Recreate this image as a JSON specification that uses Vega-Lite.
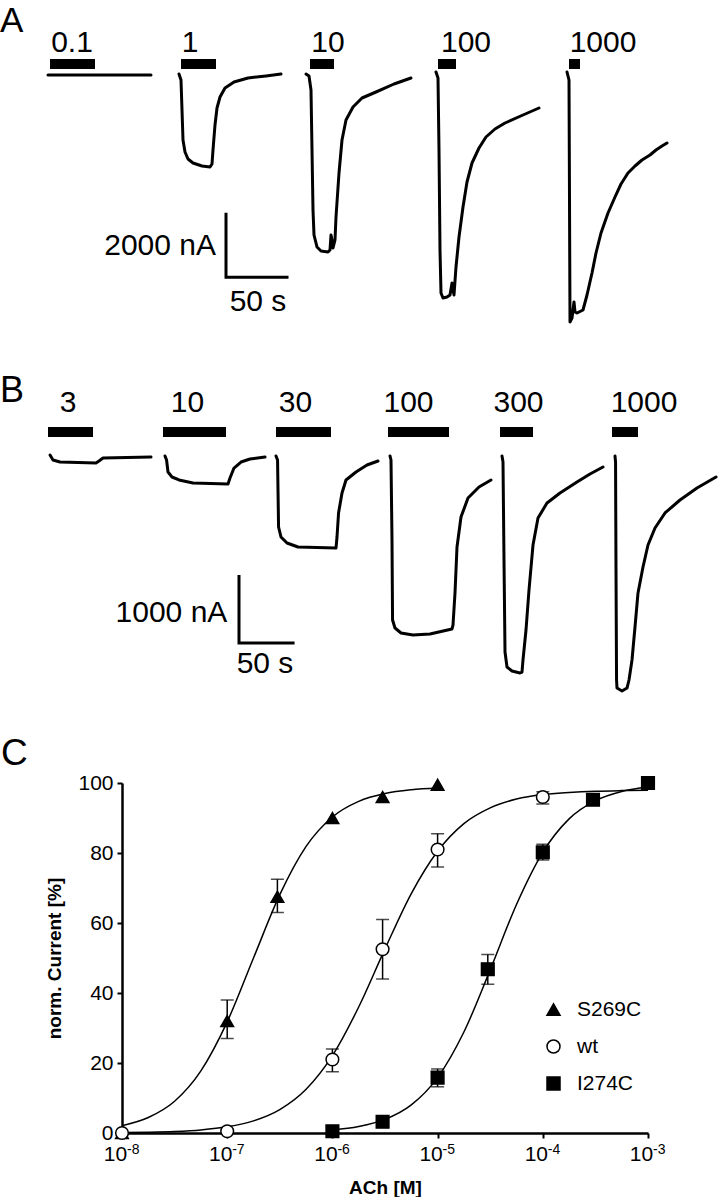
{
  "$schema": "https://vega.github.io/schema/vega-lite/v6.json",
  "padding": 0,
  "background": "white",
  "bounds": "flush",
  "spacing": 0,
  "config": {"view": {"stroke": null}, "font": "Liberation Sans"},
  "vconcat": [
    {
      "width": 526,
      "height": 340,
      "layer": [
        {
          "data": {"values": [
            {"trace": "a01", "t": -59.2, "I": -31}, {"trace": "a01", "t": 23.2, "I": -31},
            {"trace": "a1", "t": 45.6, "I": 0}, {"trace": "a1", "t": 47.2, "I": -186}, {"trace": "a1", "t": 48, "I": -1116}, {"trace": "a1", "t": 48.8, "I": -2046}, {"trace": "a1", "t": 50.4, "I": -2418}, {"trace": "a1", "t": 52.8, "I": -2635}, {"trace": "a1", "t": 56.8, "I": -2759}, {"trace": "a1", "t": 64, "I": -2852}, {"trace": "a1", "t": 70.4, "I": -2883}, {"trace": "a1", "t": 72, "I": -2790}, {"trace": "a1", "t": 72.8, "I": -2356}, {"trace": "a1", "t": 74.4, "I": -1581}, {"trace": "a1", "t": 76, "I": -1054}, {"trace": "a1", "t": 78.4, "I": -713}, {"trace": "a1", "t": 82.4, "I": -434}, {"trace": "a1", "t": 89.6, "I": -248}, {"trace": "a1", "t": 100.8, "I": -124}, {"trace": "a1", "t": 115.2, "I": -62}, {"trace": "a1", "t": 127.2, "I": 0},
            {"trace": "a10", "t": 147.2, "I": 0}, {"trace": "a10", "t": 149.6, "I": -62}, {"trace": "a10", "t": 151.2, "I": -496}, {"trace": "a10", "t": 152, "I": -2356}, {"trace": "a10", "t": 152.8, "I": -4216}, {"trace": "a10", "t": 153.6, "I": -4991}, {"trace": "a10", "t": 156, "I": -5363}, {"trace": "a10", "t": 159.2, "I": -5487}, {"trace": "a10", "t": 164.8, "I": -5518}, {"trace": "a10", "t": 166.4, "I": -5456}, {"trace": "a10", "t": 167.2, "I": -4991}, {"trace": "a10", "t": 168, "I": -5146}, {"trace": "a10", "t": 168.8, "I": -5394}, {"trace": "a10", "t": 170.4, "I": -5146}, {"trace": "a10", "t": 171.2, "I": -4433}, {"trace": "a10", "t": 173.6, "I": -3069}, {"trace": "a10", "t": 176, "I": -2046}, {"trace": "a10", "t": 179.2, "I": -1426}, {"trace": "a10", "t": 184.8, "I": -1023}, {"trace": "a10", "t": 192, "I": -744}, {"trace": "a10", "t": 203.2, "I": -558}, {"trace": "a10", "t": 217.6, "I": -310}, {"trace": "a10", "t": 231.2, "I": -124},
            {"trace": "a100", "t": 251.2, "I": 62}, {"trace": "a100", "t": 252.8, "I": -124}, {"trace": "a100", "t": 253.6, "I": -2356}, {"trace": "a100", "t": 254.4, "I": -5456}, {"trace": "a100", "t": 255.2, "I": -6789}, {"trace": "a100", "t": 256.8, "I": -6944}, {"trace": "a100", "t": 260, "I": -6913}, {"trace": "a100", "t": 262.4, "I": -6851}, {"trace": "a100", "t": 264, "I": -6479}, {"trace": "a100", "t": 264.8, "I": -6696}, {"trace": "a100", "t": 265.6, "I": -6851}, {"trace": "a100", "t": 267.2, "I": -5983}, {"trace": "a100", "t": 269.6, "I": -5053}, {"trace": "a100", "t": 272.8, "I": -4123}, {"trace": "a100", "t": 276, "I": -3348}, {"trace": "a100", "t": 280, "I": -2759}, {"trace": "a100", "t": 285.6, "I": -2294}, {"trace": "a100", "t": 291.2, "I": -1953}, {"trace": "a100", "t": 298.4, "I": -1705}, {"trace": "a100", "t": 306.4, "I": -1519}, {"trace": "a100", "t": 320.8, "I": -1271}, {"trace": "a100", "t": 333.6, "I": -1054},
            {"trace": "a1000", "t": 356, "I": 62}, {"trace": "a1000", "t": 357.6, "I": -186}, {"trace": "a1000", "t": 358, "I": -3906}, {"trace": "a1000", "t": 358.4, "I": -7688}, {"trace": "a1000", "t": 360, "I": -7564}, {"trace": "a1000", "t": 361.6, "I": -7068}, {"trace": "a1000", "t": 362.4, "I": -7378}, {"trace": "a1000", "t": 364, "I": -7409}, {"trace": "a1000", "t": 368.8, "I": -7316}, {"trace": "a1000", "t": 372, "I": -6851}, {"trace": "a1000", "t": 376, "I": -6169}, {"trace": "a1000", "t": 379.2, "I": -5549}, {"trace": "a1000", "t": 383.2, "I": -4929}, {"trace": "a1000", "t": 388.8, "I": -4309}, {"trace": "a1000", "t": 394.4, "I": -3813}, {"trace": "a1000", "t": 399.2, "I": -3410}, {"trace": "a1000", "t": 404.8, "I": -3069}, {"trace": "a1000", "t": 410.4, "I": -2852}, {"trace": "a1000", "t": 416, "I": -2666}, {"trace": "a1000", "t": 422.4, "I": -2511}, {"trace": "a1000", "t": 427.2, "I": -2356}, {"trace": "a1000", "t": 432, "I": -2232}, {"trace": "a1000", "t": 436, "I": -2139}
          ]},
          "mark": {"type": "line", "color": "black", "strokeWidth": 3, "strokeJoin": "round", "strokeCap": "round"},
          "encoding": {
            "x": {"field": "t", "type": "quantitative", "scale": {"domain": [0, 420.8], "nice": false, "zero": false}, "axis": null},
            "y": {"field": "I", "type": "quantitative", "scale": {"domain": [-8246, 2294], "nice": false, "zero": false}, "axis": null},
            "detail": {"field": "trace"}
          }
        },
        {
          "data": {"values": [
            {"label": "0.1", "t0": -57.6, "t1": -21.6, "tc": -40},
            {"label": "1", "t0": 47.2, "t1": 75.2, "tc": 54.4},
            {"label": "10", "t0": 150.4, "t1": 169.6, "tc": 164.8},
            {"label": "100", "t0": 252.8, "t1": 267.2, "tc": 275.2},
            {"label": "1000", "t0": 357.6, "t1": 366.4, "tc": 384.8}
          ]},
          "layer": [
            {
              "mark": {"type": "rect", "color": "black"},
              "encoding": {
                "x": {"field": "t0", "type": "quantitative", "scale": {"domain": [0, 420.8], "nice": false, "zero": false}, "axis": null},
                "x2": {"field": "t1"},
                "y": {"datum": 155, "type": "quantitative", "scale": {"domain": [-8246, 2294], "nice": false, "zero": false}, "axis": null},
                "y2": {"datum": 465}
              }
            },
            {
              "mark": {"type": "text", "fontSize": 30, "align": "center", "baseline": "alphabetic", "color": "black"},
              "encoding": {
                "x": {"field": "tc", "type": "quantitative", "scale": {"domain": [0, 420.8], "nice": false, "zero": false}, "axis": null},
                "y": {"datum": 682, "type": "quantitative", "scale": {"domain": [-8246, 2294], "nice": false, "zero": false}, "axis": null},
                "text": {"field": "label"}
              }
            }
          ]
        },
        {
          "data": {"values": [
            {"k": 0, "t": 83.2, "I": -4300}, {"k": 1, "t": 83.2, "I": -6300}, {"k": 2, "t": 133.2, "I": -6300}
          ]},
          "mark": {"type": "line", "color": "black", "strokeWidth": 3},
          "encoding": {
            "x": {"field": "t", "type": "quantitative", "scale": {"domain": [0, 420.8], "nice": false, "zero": false}, "axis": null},
            "y": {"field": "I", "type": "quantitative", "scale": {"domain": [-8246, 2294], "nice": false, "zero": false}, "axis": null},
            "order": {"field": "k"}
          }
        },
        {
          "data": {"values": [{"txt": "2000 nA", "t": 75.2, "I": -5611}]},
          "mark": {"type": "text", "fontSize": 30, "align": "right", "baseline": "alphabetic", "color": "black"},
          "encoding": {
            "x": {"field": "t", "type": "quantitative", "scale": {"domain": [0, 420.8], "nice": false, "zero": false}, "axis": null},
            "y": {"field": "I", "type": "quantitative", "scale": {"domain": [-8246, 2294], "nice": false, "zero": false}, "axis": null},
            "text": {"field": "txt"}
          }
        },
        {
          "data": {"values": [{"txt": "50 s", "t": 108.8, "I": -7338}]},
          "mark": {"type": "text", "fontSize": 30, "align": "center", "baseline": "alphabetic", "color": "black"},
          "encoding": {
            "x": {"field": "t", "type": "quantitative", "scale": {"domain": [0, 420.8], "nice": false, "zero": false}, "axis": null},
            "y": {"field": "I", "type": "quantitative", "scale": {"domain": [-8246, 2294], "nice": false, "zero": false}, "axis": null},
            "text": {"field": "txt"}
          }
        },
        {
          "data": {"values": [{"txt": "A", "t": -97.6, "I": 1302}]},
          "mark": {"type": "text", "fontSize": 35, "align": "left", "baseline": "alphabetic", "color": "black"},
          "encoding": {
            "x": {"field": "t", "type": "quantitative", "scale": {"domain": [0, 420.8], "nice": false, "zero": false}, "axis": null},
            "y": {"field": "I", "type": "quantitative", "scale": {"domain": [-8246, 2294], "nice": false, "zero": false}, "axis": null},
            "text": {"field": "txt"}
          }
        }
      ]
    },
    {
      "width": 526,
      "height": 443,
      "layer": [
        {
          "data": {"values": [
            {"trace": "b3", "t": -64.8, "I": 29}, {"trace": "b3", "t": -62.1, "I": -44}, {"trace": "b3", "t": -55.8, "I": -74}, {"trace": "b3", "t": -23.4, "I": -88}, {"trace": "b3", "t": -20.7, "I": -59}, {"trace": "b3", "t": -17.1, "I": -15}, {"trace": "b3", "t": 26.1, "I": 0},
            {"trace": "b10", "t": 38.7, "I": 15}, {"trace": "b10", "t": 40.1, "I": -44}, {"trace": "b10", "t": 41.4, "I": -221}, {"trace": "b10", "t": 45, "I": -294}, {"trace": "b10", "t": 51.3, "I": -338}, {"trace": "b10", "t": 63.9, "I": -382}, {"trace": "b10", "t": 95.4, "I": -397}, {"trace": "b10", "t": 97.2, "I": -309}, {"trace": "b10", "t": 100.8, "I": -162}, {"trace": "b10", "t": 107.1, "I": -74}, {"trace": "b10", "t": 115.2, "I": -29}, {"trace": "b10", "t": 128.7, "I": 0},
            {"trace": "b30", "t": 138.6, "I": 15}, {"trace": "b30", "t": 140, "I": -44}, {"trace": "b30", "t": 140.4, "I": -485}, {"trace": "b30", "t": 140.9, "I": -1029}, {"trace": "b30", "t": 143.1, "I": -1176}, {"trace": "b30", "t": 148.5, "I": -1264}, {"trace": "b30", "t": 158.4, "I": -1323}, {"trace": "b30", "t": 192.6, "I": -1338}, {"trace": "b30", "t": 193.5, "I": -1176}, {"trace": "b30", "t": 194.9, "I": -823}, {"trace": "b30", "t": 198, "I": -529}, {"trace": "b30", "t": 201.6, "I": -338}, {"trace": "b30", "t": 210.6, "I": -221}, {"trace": "b30", "t": 220.5, "I": -118}, {"trace": "b30", "t": 230.4, "I": -59},
            {"trace": "b100", "t": 241.2, "I": 15}, {"trace": "b100", "t": 242.1, "I": -44}, {"trace": "b100", "t": 243, "I": -1220}, {"trace": "b100", "t": 243.5, "I": -2396}, {"trace": "b100", "t": 245.7, "I": -2514}, {"trace": "b100", "t": 251.1, "I": -2587}, {"trace": "b100", "t": 261.9, "I": -2617}, {"trace": "b100", "t": 277.2, "I": -2602}, {"trace": "b100", "t": 297, "I": -2528}, {"trace": "b100", "t": 297.9, "I": -2470}, {"trace": "b100", "t": 299.7, "I": -1999}, {"trace": "b100", "t": 301.5, "I": -1323}, {"trace": "b100", "t": 305.1, "I": -882}, {"trace": "b100", "t": 311.4, "I": -603}, {"trace": "b100", "t": 321.3, "I": -441}, {"trace": "b100", "t": 332.1, "I": -338},
            {"trace": "b300", "t": 342, "I": 15}, {"trace": "b300", "t": 342.9, "I": -74}, {"trace": "b300", "t": 343.8, "I": -1514}, {"trace": "b300", "t": 344.7, "I": -2867}, {"trace": "b300", "t": 346.5, "I": -3087}, {"trace": "b300", "t": 351, "I": -3146}, {"trace": "b300", "t": 358.2, "I": -3175}, {"trace": "b300", "t": 360, "I": -3161}, {"trace": "b300", "t": 360.9, "I": -2984}, {"trace": "b300", "t": 363.6, "I": -2543}, {"trace": "b300", "t": 366.3, "I": -1955}, {"trace": "b300", "t": 369.9, "I": -1294}, {"trace": "b300", "t": 374.4, "I": -897}, {"trace": "b300", "t": 382.5, "I": -676}, {"trace": "b300", "t": 394.2, "I": -529}, {"trace": "b300", "t": 409.5, "I": -368}, {"trace": "b300", "t": 421.2, "I": -250}, {"trace": "b300", "t": 432.9, "I": -147},
            {"trace": "b1000", "t": 443.7, "I": 15}, {"trace": "b1000", "t": 444.2, "I": -74}, {"trace": "b1000", "t": 444.6, "I": -1661}, {"trace": "b1000", "t": 445.1, "I": -3278}, {"trace": "b1000", "t": 445.5, "I": -3396}, {"trace": "b1000", "t": 450, "I": -3440}, {"trace": "b1000", "t": 454.5, "I": -3396}, {"trace": "b1000", "t": 456.3, "I": -3278}, {"trace": "b1000", "t": 459, "I": -2984}, {"trace": "b1000", "t": 461.7, "I": -2499}, {"trace": "b1000", "t": 464.4, "I": -1999}, {"trace": "b1000", "t": 468.9, "I": -1617}, {"trace": "b1000", "t": 473.4, "I": -1294}, {"trace": "b1000", "t": 479.7, "I": -1044}, {"trace": "b1000", "t": 488.7, "I": -823}, {"trace": "b1000", "t": 502.2, "I": -632}, {"trace": "b1000", "t": 517.5, "I": -456}, {"trace": "b1000", "t": 534.6, "I": -294}
          ]},
          "mark": {"type": "line", "color": "black", "strokeWidth": 3, "strokeJoin": "round", "strokeCap": "round"},
          "encoding": {
            "x": {"field": "t", "type": "quantitative", "scale": {"domain": [0, 473.4], "nice": false, "zero": false}, "axis": null},
            "y": {"field": "I", "type": "quantitative", "scale": {"domain": [-4792.2, 1719.9], "nice": false, "zero": false}, "axis": null},
            "detail": {"field": "trace"}
          }
        },
        {
          "data": {"values": [
            {"label": "3", "t0": -66.6, "t1": -26.1, "tc": -48.6},
            {"label": "10", "t0": 36.9, "t1": 93.6, "tc": 58.95},
            {"label": "30", "t0": 138.6, "t1": 188.1, "tc": 156.15},
            {"label": "100", "t0": 239.4, "t1": 294.3, "tc": 257.85},
            {"label": "300", "t0": 340.2, "t1": 369.9, "tc": 356.85},
            {"label": "1000", "t0": 441, "t1": 464.4, "tc": 469.8}
          ]},
          "layer": [
            {
              "mark": {"type": "rect", "color": "black"},
              "encoding": {
                "x": {"field": "t0", "type": "quantitative", "scale": {"domain": [0, 473.4], "nice": false, "zero": false}, "axis": null},
                "x2": {"field": "t1"},
                "y": {"datum": 294, "type": "quantitative", "scale": {"domain": [-4792.2, 1719.9], "nice": false, "zero": false}, "axis": null},
                "y2": {"datum": 441}
              }
            },
            {
              "mark": {"type": "text", "fontSize": 30, "align": "center", "baseline": "alphabetic", "color": "black"},
              "encoding": {
                "x": {"field": "tc", "type": "quantitative", "scale": {"domain": [0, 473.4], "nice": false, "zero": false}, "axis": null},
                "y": {"datum": 661.5, "type": "quantitative", "scale": {"domain": [-4792.2, 1719.9], "nice": false, "zero": false}, "axis": null},
                "text": {"field": "label"}
              }
            }
          ]
        },
        {
          "data": {"values": [
            {"k": 0, "t": 105.3, "I": -1734}, {"k": 1, "t": 105.3, "I": -2734}, {"k": 2, "t": 155.3, "I": -2734}
          ]},
          "mark": {"type": "line", "color": "black", "strokeWidth": 3},
          "encoding": {
            "x": {"field": "t", "type": "quantitative", "scale": {"domain": [0, 473.4], "nice": false, "zero": false}, "axis": null},
            "y": {"field": "I", "type": "quantitative", "scale": {"domain": [-4792.2, 1719.9], "nice": false, "zero": false}, "axis": null},
            "order": {"field": "k"}
          }
        },
        {
          "data": {"values": [{"txt": "1000 nA", "t": 94.8, "I": -2421}]},
          "mark": {"type": "text", "fontSize": 30, "align": "right", "baseline": "alphabetic", "color": "black"},
          "encoding": {
            "x": {"field": "t", "type": "quantitative", "scale": {"domain": [0, 473.4], "nice": false, "zero": false}, "axis": null},
            "y": {"field": "I", "type": "quantitative", "scale": {"domain": [-4792.2, 1719.9], "nice": false, "zero": false}, "axis": null},
            "text": {"field": "txt"}
          }
        },
        {
          "data": {"values": [{"txt": "50 s", "t": 128.7, "I": -3171}]},
          "mark": {"type": "text", "fontSize": 30, "align": "center", "baseline": "alphabetic", "color": "black"},
          "encoding": {
            "x": {"field": "t", "type": "quantitative", "scale": {"domain": [0, 473.4], "nice": false, "zero": false}, "axis": null},
            "y": {"field": "I", "type": "quantitative", "scale": {"domain": [-4792.2, 1719.9], "nice": false, "zero": false}, "axis": null},
            "text": {"field": "txt"}
          }
        },
        {
          "data": {"values": [{"txt": "B", "t": -109.8, "I": 808.5}]},
          "mark": {"type": "text", "fontSize": 36, "align": "left", "baseline": "alphabetic", "color": "black"},
          "encoding": {
            "x": {"field": "t", "type": "quantitative", "scale": {"domain": [0, 473.4], "nice": false, "zero": false}, "axis": null},
            "y": {"field": "I", "type": "quantitative", "scale": {"domain": [-4792.2, 1719.9], "nice": false, "zero": false}, "axis": null},
            "text": {"field": "txt"}
          }
        }
      ]
    },
    {
      "width": 526,
      "height": 350,
      "resolve": {"axis": {"x": "independent", "y": "independent"}},
      "layer": [
        {
          "data": {"values": [
            {"s": "S269C", "c": 1e-8, "p": 2.09}, {"s": "S269C", "c": 1.778e-8, "p": 4.42}, {"s": "S269C", "c": 3.162e-8, "p": 9.07}, {"s": "S269C", "c": 5.623e-8, "p": 17.74}, {"s": "S269C", "c": 1e-7, "p": 31.75}, {"s": "S269C", "c": 1.778e-7, "p": 50.0}, {"s": "S269C", "c": 3.162e-7, "p": 68.1}, {"s": "S269C", "c": 5.623e-7, "p": 81.9}, {"s": "S269C", "c": 1e-6, "p": 90.3}, {"s": "S269C", "c": 1.778e-6, "p": 94.75}, {"s": "S269C", "c": 3.162e-6, "p": 96.99}, {"s": "S269C", "c": 5.623e-6, "p": 98.06}, {"s": "S269C", "c": 1e-5, "p": 98.56},
            {"s": "wt", "c": 1e-8, "p": 0.11}, {"s": "wt", "c": 1.778e-8, "p": 0.23}, {"s": "wt", "c": 3.162e-8, "p": 0.45}, {"s": "wt", "c": 5.623e-8, "p": 0.89}, {"s": "wt", "c": 1e-7, "p": 1.77}, {"s": "wt", "c": 1.778e-7, "p": 3.46}, {"s": "wt", "c": 3.162e-7, "p": 6.68}, {"s": "wt", "c": 5.623e-7, "p": 12.48}, {"s": "wt", "c": 1e-6, "p": 22.09}, {"s": "wt", "c": 1.778e-6, "p": 36.0}, {"s": "wt", "c": 3.162e-6, "p": 52.6}, {"s": "wt", "c": 5.623e-6, "p": 68.4}, {"s": "wt", "c": 1e-5, "p": 80.5}, {"s": "wt", "c": 1.778e-5, "p": 88.4}, {"s": "wt", "c": 3.162e-5, "p": 92.9}, {"s": "wt", "c": 5.623e-5, "p": 95.4}, {"s": "wt", "c": 1e-4, "p": 96.7}, {"s": "wt", "c": 1.778e-4, "p": 97.3}, {"s": "wt", "c": 3.162e-4, "p": 97.66}, {"s": "wt", "c": 5.623e-4, "p": 97.83}, {"s": "wt", "c": 1e-3, "p": 97.92},
            {"s": "I274C", "c": 1e-6, "p": 0.86}, {"s": "I274C", "c": 1.778e-6, "p": 1.85}, {"s": "I274C", "c": 3.162e-6, "p": 3.89}, {"s": "I274C", "c": 5.623e-6, "p": 8.03}, {"s": "I274C", "c": 1e-5, "p": 15.83}, {"s": "I274C", "c": 1.778e-5, "p": 28.85}, {"s": "I274C", "c": 3.162e-5, "p": 46.6}, {"s": "I274C", "c": 5.623e-5, "p": 65.3}, {"s": "I274C", "c": 1e-4, "p": 80.2}, {"s": "I274C", "c": 1.778e-4, "p": 89.74}, {"s": "I274C", "c": 3.162e-4, "p": 94.96}, {"s": "I274C", "c": 5.623e-4, "p": 97.6}, {"s": "I274C", "c": 1e-3, "p": 98.87}
          ]},
          "mark": {"type": "line", "color": "black", "strokeWidth": 1.5, "interpolate": "monotone"},
          "encoding": {
            "x": {"field": "c", "type": "quantitative", "scale": {"type": "log", "domain": [1e-8, 1e-3], "nice": false},
              "axis": {"orient": "bottom", "values": [1e-8, 1e-7, 1e-6, 1e-5, 1e-4, 1e-3],
                "labelExpr": "'10'", "labelOffset": -7,
                "title": "ACh [M]", "titleFontSize": 19, "titleFontWeight": "bold", "titlePadding": 14, "titleColor": "black",
                "labelFontSize": 21, "labelPadding": 5, "labelColor": "black", "labelFlush": false, "labelOverlap": false,
                "tickSize": 5, "tickWidth": 2, "tickColor": "black", "domainWidth": 2.5, "domainColor": "black", "grid": false}},
            "y": {"field": "p", "type": "quantitative", "scale": {"domain": [0, 100], "nice": false, "zero": false},
              "axis": {"orient": "left", "values": [0, 20, 40, 60, 80, 100],
                "title": "norm. Current [%]", "titleFontSize": 19, "titleFontWeight": "bold", "titlePadding": 13, "titleColor": "black",
                "labelFontSize": 21, "labelPadding": 4, "labelColor": "black", "labelFlush": false, "labelOverlap": false,
                "tickSize": 5, "tickWidth": 2, "tickColor": "black", "domainWidth": 2.5, "domainColor": "black", "grid": false}},
            "detail": {"field": "s"}
          }
        },
        {
          "data": {"values": [
            {"s": "S269C", "c": 1e-8, "p": 0},
            {"s": "S269C", "c": 1e-7, "p": 32, "lo": 27, "hi": 38},
            {"s": "S269C", "c": 3e-7, "p": 67.5, "lo": 63, "hi": 72.5},
            {"s": "S269C", "c": 1e-6, "p": 90},
            {"s": "S269C", "c": 3e-6, "p": 96},
            {"s": "S269C", "c": 1e-5, "p": 99.5},
            {"s": "wt", "c": 1e-8, "p": 0},
            {"s": "wt", "c": 1e-7, "p": 0.5},
            {"s": "wt", "c": 1e-6, "p": 21, "lo": 17.5, "hi": 24},
            {"s": "wt", "c": 3e-6, "p": 52.5, "lo": 44, "hi": 61},
            {"s": "wt", "c": 1e-5, "p": 81, "lo": 76, "hi": 85.5},
            {"s": "wt", "c": 1e-4, "p": 96, "lo": 94, "hi": 97.5},
            {"s": "wt", "c": 1e-3, "p": 100},
            {"s": "I274C", "c": 1e-6, "p": 0.5},
            {"s": "I274C", "c": 3e-6, "p": 3.2},
            {"s": "I274C", "c": 1e-5, "p": 15.8, "lo": 13.2, "hi": 18.3},
            {"s": "I274C", "c": 3e-5, "p": 46.8, "lo": 42.5, "hi": 51},
            {"s": "I274C", "c": 1e-4, "p": 80.2, "lo": 78, "hi": 82.5},
            {"s": "I274C", "c": 3e-4, "p": 95.2},
            {"s": "I274C", "c": 1e-3, "p": 100}
          ]},
          "layer": [
            {
              "transform": [{"filter": "isValid(datum.lo)"}],
              "mark": {"type": "rule", "color": "black", "strokeWidth": 1.5},
              "encoding": {
                "x": {"field": "c", "type": "quantitative", "scale": {"type": "log", "domain": [1e-8, 1e-3], "nice": false},
                  "axis": {"orient": "bottom", "values": [2e-8, 3e-8, 4e-8, 5e-8, 6e-8, 7e-8, 8e-8, 9e-8, 2e-7, 3e-7, 4e-7, 5e-7, 6e-7, 7e-7, 8e-7, 9e-7, 2e-6, 3e-6, 4e-6, 5e-6, 6e-6, 7e-6, 8e-6, 9e-6, 2e-5, 3e-5, 4e-5, 5e-5, 6e-5, 7e-5, 8e-5, 9e-5, 2e-4, 3e-4, 4e-4, 5e-4, 6e-4, 7e-4, 8e-4, 9e-4],
                    "labels": false, "title": null, "domain": false, "tickSize": 4, "tickWidth": 1.5, "tickColor": "black", "grid": false}},
                "y": {"field": "lo", "type": "quantitative", "scale": {"domain": [0, 100], "nice": false, "zero": false},
                  "axis": {"orient": "left", "values": [10, 30, 50, 70, 90], "labels": false, "title": null, "domain": false, "tickSize": 3, "tickWidth": 2, "tickColor": "black", "grid": false}},
                "y2": {"field": "hi"}
              }
            },
            {
              "transform": [{"filter": "isValid(datum.lo)"}],
              "mark": {"type": "tick", "orient": "horizontal", "color": "black", "size": 13, "thickness": 1.5},
              "encoding": {
                "x": {"field": "c", "type": "quantitative", "scale": {"type": "log", "domain": [1e-8, 1e-3], "nice": false}, "axis": null},
                "y": {"field": "lo", "type": "quantitative", "scale": {"domain": [0, 100], "nice": false, "zero": false}, "axis": null}
              }
            },
            {
              "transform": [{"filter": "isValid(datum.hi)"}],
              "mark": {"type": "tick", "orient": "horizontal", "color": "black", "size": 13, "thickness": 1.5},
              "encoding": {
                "x": {"field": "c", "type": "quantitative", "scale": {"type": "log", "domain": [1e-8, 1e-3], "nice": false}, "axis": null},
                "y": {"field": "hi", "type": "quantitative", "scale": {"domain": [0, 100], "nice": false, "zero": false}, "axis": null}
              }
            },
            {
              "mark": {"type": "point", "filled": false, "strokeWidth": 1.5, "size": 160, "opacity": 1, "fillOpacity": 1},
              "encoding": {
                "x": {"field": "c", "type": "quantitative", "scale": {"type": "log", "domain": [1e-8, 1e-3], "nice": false}, "axis": null},
                "y": {"field": "p", "type": "quantitative", "scale": {"domain": [0, 100], "nice": false, "zero": false}, "axis": null},
                "shape": {"field": "s", "type": "nominal", "scale": {"domain": ["S269C", "wt", "I274C"], "range": ["triangle-up", "circle", "square"]},
                  "legend": {"orient": "none", "legendX": 421, "legendY": 999, "title": null, "labelFontSize": 21, "labelColor": "black", "symbolSize": 169, "symbolStrokeWidth": 1.5, "rowPadding": 15, "labelOffset": 13, "padding": 0}},
                "fill": {"field": "s", "type": "nominal", "scale": {"domain": ["S269C", "wt", "I274C"], "range": ["black", "white", "black"]},
                  "legend": {"orient": "none", "legendX": 421, "legendY": 999, "title": null, "labelFontSize": 21, "labelColor": "black", "symbolSize": 169, "symbolStrokeWidth": 1.5, "rowPadding": 15, "labelOffset": 13, "padding": 0}},
                "stroke": {"field": "s", "type": "nominal", "scale": {"domain": ["S269C", "wt", "I274C"], "range": ["black", "black", "black"]},
                  "legend": {"orient": "none", "legendX": 421, "legendY": 999, "title": null, "labelFontSize": 21, "labelColor": "black", "symbolSize": 169, "symbolStrokeWidth": 1.5, "rowPadding": 15, "labelOffset": 13, "padding": 0}}
              }
            }
          ]
        },
        {
          "data": {"values": [
            {"c": 1e-8, "e": "-8"}, {"c": 1e-7, "e": "-7"}, {"c": 1e-6, "e": "-6"},
            {"c": 1e-5, "e": "-5"}, {"c": 1e-4, "e": "-4"}, {"c": 1e-3, "e": "-3"}
          ]},
          "mark": {"type": "text", "fontSize": 14, "align": "left", "baseline": "alphabetic", "dx": 5, "color": "black"},
          "encoding": {
            "x": {"field": "c", "type": "quantitative", "scale": {"type": "log", "domain": [1e-8, 1e-3], "nice": false}, "axis": null},
            "y": {"datum": -6.1, "type": "quantitative", "scale": {"domain": [0, 100], "nice": false, "zero": false}, "axis": null},
            "text": {"field": "e"}
          }
        },
        {
          "data": {"values": [{"txt": "C", "c": 7.08e-10, "p": 105.1}]},
          "mark": {"type": "text", "fontSize": 37, "align": "left", "baseline": "alphabetic", "color": "black"},
          "encoding": {
            "x": {"field": "c", "type": "quantitative", "scale": {"type": "log", "domain": [1e-8, 1e-3], "nice": false}, "axis": null},
            "y": {"field": "p", "type": "quantitative", "scale": {"domain": [0, 100], "nice": false, "zero": false}, "axis": null},
            "text": {"field": "txt"}
          }
        }
      ]
    }
  ]
}
